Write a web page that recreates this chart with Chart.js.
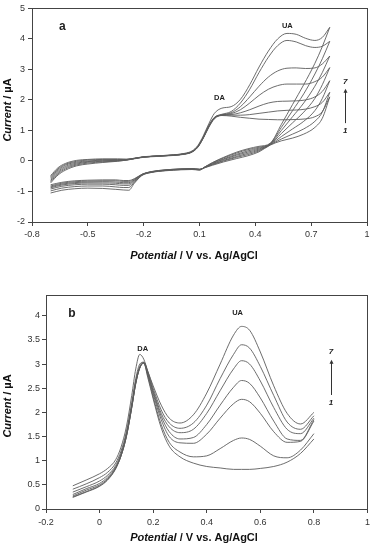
<!DOCTYPE html>
<html>
<head>
<meta charset="utf-8">
<script src="https://cdn.jsdelivr.net/npm/chart.js@4.4.1/dist/chart.umd.min.js"></script>
<style>
  body { margin: 0; background: #fff; }
  canvas { position: absolute; left: 0; }
  #cvChart { top: 0; }
  #dpvChart { top: 270px; }
</style>
</head>
<body>
<canvas id="cvChart" width="374" height="262"></canvas>
<canvas id="dpvChart" width="374" height="280"></canvas>
<script>
// ---- (a) cyclic voltammograms, curves 1..7 ----
const cvFwdV = [-0.7, -0.66, -0.62, -0.56, -0.5, -0.42, -0.34, -0.29, -0.25, -0.2, -0.12, -0.04, 0.02, 0.06, 0.09, 0.12, 0.15, 0.18, 0.22, 0.27, 0.32, 0.37, 0.42, 0.47, 0.52, 0.57, 0.62, 0.67, 0.72, 0.76, 0.8];
const cvFwd1 = [-0.72, -0.46, -0.3, -0.16, -0.1, -0.05, -0.01, 0.03, 0.07, 0.12, 0.15, 0.18, 0.22, 0.29, 0.44, 0.74, 1.1, 1.38, 1.49, 1.47, 1.43, 1.4, 1.37, 1.36, 1.35, 1.35, 1.36, 1.38, 1.45, 1.62, 2.1];
const cvFwd2 = [-0.68, -0.42, -0.26, -0.13, -0.07, -0.03, 0.0, 0.03, 0.08, 0.13, 0.16, 0.19, 0.23, 0.3, 0.45, 0.75, 1.12, 1.4, 1.5, 1.5, 1.5, 1.52, 1.56, 1.6, 1.64, 1.66, 1.67, 1.7, 1.78, 1.92, 2.25];
const cvFwd3 = [-0.64, -0.38, -0.22, -0.1, -0.04, -0.01, 0.01, 0.04, 0.08, 0.13, 0.16, 0.19, 0.23, 0.3, 0.45, 0.76, 1.13, 1.41, 1.5, 1.52, 1.58, 1.68, 1.8, 1.9, 1.95, 1.96, 1.97, 2.0, 2.1, 2.28, 2.63];
const cvFwd4 = [-0.6, -0.34, -0.18, -0.07, -0.02, 0.01, 0.02, 0.04, 0.08, 0.13, 0.16, 0.19, 0.23, 0.3, 0.46, 0.77, 1.14, 1.41, 1.51, 1.55, 1.68, 1.9, 2.15, 2.35, 2.47, 2.52, 2.52, 2.52, 2.6, 2.75, 3.06];
const cvFwd5 = [-0.56, -0.3, -0.14, -0.04, 0.0, 0.03, 0.04, 0.05, 0.08, 0.13, 0.16, 0.19, 0.23, 0.31, 0.46, 0.77, 1.15, 1.42, 1.51, 1.58, 1.78, 2.1, 2.45, 2.75, 2.95, 3.04, 3.05, 3.03, 3.05, 3.18, 3.44];
const cvFwd6 = [-0.52, -0.26, -0.11, -0.01, 0.03, 0.05, 0.05, 0.05, 0.09, 0.13, 0.17, 0.2, 0.24, 0.31, 0.47, 0.78, 1.16, 1.43, 1.53, 1.62, 1.9, 2.35, 2.9, 3.4, 3.78, 3.95, 3.9, 3.78, 3.72, 3.76, 3.92];
const cvFwd7 = [-0.48, -0.22, -0.08, 0.02, 0.05, 0.07, 0.07, 0.06, 0.09, 0.14, 0.17, 0.2, 0.25, 0.33, 0.5, 0.82, 1.22, 1.56, 1.73, 1.78, 2.02, 2.5, 3.08, 3.6, 4.0, 4.18, 4.15, 4.02, 3.95, 4.05, 4.38];

const cvRevV = [-0.7, -0.64, -0.57, -0.5, -0.42, -0.35, -0.31, -0.28, -0.25, -0.21, -0.16, -0.08, 0.0, 0.06, 0.1, 0.13, 0.17, 0.23, 0.3, 0.36, 0.42, 0.48, 0.54, 0.6, 0.66, 0.72, 0.76, 0.8];
const cvRev1 = [-0.78, -0.7, -0.65, -0.63, -0.62, -0.62, -0.64, -0.64, -0.58, -0.44, -0.35, -0.29, -0.26, -0.25, -0.27, -0.22, -0.14, -0.03, 0.08, 0.17, 0.3, 0.52, 0.66, 0.75, 0.88, 1.1, 1.4, 2.1];
const cvRev2 = [-0.82, -0.73, -0.68, -0.66, -0.65, -0.65, -0.67, -0.67, -0.6, -0.44, -0.35, -0.29, -0.26, -0.25, -0.27, -0.21, -0.12, 0.0, 0.12, 0.21, 0.33, 0.53, 0.72, 0.88, 1.05, 1.3, 1.6, 2.25];
const cvRev3 = [-0.85, -0.76, -0.71, -0.69, -0.68, -0.69, -0.71, -0.71, -0.62, -0.45, -0.36, -0.3, -0.27, -0.26, -0.28, -0.21, -0.11, 0.02, 0.15, 0.25, 0.36, 0.54, 0.8, 1.05, 1.3, 1.65, 2.05, 2.63];
const cvRev4 = [-0.88, -0.79, -0.74, -0.72, -0.72, -0.73, -0.75, -0.75, -0.64, -0.45, -0.36, -0.3, -0.27, -0.26, -0.28, -0.2, -0.09, 0.05, 0.19, 0.29, 0.39, 0.55, 0.9, 1.25, 1.6, 2.05, 2.5, 3.06];
const cvRev5 = [-0.92, -0.83, -0.78, -0.76, -0.76, -0.78, -0.8, -0.8, -0.67, -0.46, -0.37, -0.31, -0.28, -0.27, -0.29, -0.2, -0.08, 0.07, 0.22, 0.33, 0.42, 0.56, 1.0, 1.45, 1.9, 2.45, 2.9, 3.44];
const cvRev6 = [-0.98, -0.89, -0.84, -0.82, -0.82, -0.85, -0.87, -0.87, -0.7, -0.47, -0.37, -0.31, -0.28, -0.27, -0.29, -0.19, -0.06, 0.1, 0.26, 0.37, 0.45, 0.57, 1.1, 1.65, 2.2, 2.85, 3.35, 3.92];
const cvRev7 = [-1.05, -0.96, -0.91, -0.89, -0.9, -0.93, -0.95, -0.96, -0.73, -0.48, -0.38, -0.32, -0.29, -0.28, -0.3, -0.19, -0.05, 0.12, 0.29, 0.4, 0.48, 0.58, 1.2, 1.85, 2.5, 3.2, 3.75, 4.38];

const cvXTicks = [-0.8, -0.5, -0.2, 0.1, 0.4, 0.7, 1];
const cvYTicks = [-2, -1, 0, 1, 2, 3, 4, 5];

// ---- (b) DPV, curves 1..7 ----
const dpvV = [-0.1, -0.05, 0, 0.03, 0.06, 0.08, 0.1, 0.12, 0.135, 0.15, 0.165, 0.18, 0.2, 0.23, 0.26, 0.3, 0.35, 0.4, 0.45, 0.5, 0.53, 0.56, 0.6, 0.65, 0.7, 0.75, 0.8];
const dpv1 = [0.24, 0.35, 0.47, 0.6, 0.83, 1.1, 1.5, 2.1, 2.6, 2.92, 3.02, 2.72, 2.28, 1.68, 1.3, 1.08, 0.95, 0.88, 0.85, 0.82, 0.82, 0.82, 0.84, 0.88, 0.97, 1.15, 1.45];
const dpv2 = [0.25, 0.36, 0.48, 0.61, 0.84, 1.1, 1.5, 2.1, 2.6, 2.92, 3.02, 2.75, 2.32, 1.75, 1.38, 1.18, 1.08, 1.1, 1.25, 1.42, 1.47, 1.44, 1.3, 1.1, 1.06, 1.22, 1.56];
const dpv3 = [0.27, 0.39, 0.5, 0.63, 0.85, 1.1, 1.5, 2.1, 2.6, 2.92, 3.03, 2.78, 2.38, 1.85, 1.5, 1.37, 1.36, 1.55, 1.88, 2.18, 2.27, 2.22, 1.98, 1.6, 1.38, 1.4, 1.82];
const dpv4 = [0.3, 0.42, 0.53, 0.66, 0.87, 1.12, 1.52, 2.12, 2.62, 2.93, 3.03, 2.8, 2.42, 1.92, 1.6, 1.45, 1.48, 1.75, 2.15, 2.52, 2.66, 2.6, 2.3, 1.82, 1.45, 1.42, 1.85];
const dpv5 = [0.35, 0.46, 0.58, 0.7, 0.9, 1.15, 1.55, 2.15, 2.65, 2.95, 3.03, 2.82, 2.45, 1.98, 1.7, 1.58, 1.65, 1.98, 2.45, 2.9, 3.07, 3.0, 2.65, 2.1, 1.65, 1.56, 1.88];
const dpv6 = [0.41, 0.52, 0.65, 0.76, 0.95, 1.2, 1.6, 2.2, 2.7, 3.0, 3.04, 2.85, 2.5, 2.05, 1.78, 1.67, 1.78, 2.15, 2.7, 3.2, 3.4, 3.33, 2.95, 2.35, 1.8, 1.65, 1.93];
const dpv7 = [0.48, 0.6, 0.73, 0.84, 1.02, 1.28, 1.7, 2.35, 2.9, 3.2, 3.1, 2.85, 2.55, 2.15, 1.88, 1.78, 1.95, 2.4, 3.0, 3.6, 3.78, 3.7, 3.25, 2.55, 1.98, 1.76, 2.0];

const dpvXTicks = [-0.2, 0, 0.2, 0.4, 0.6, 0.8, 1];
const dpvYTicks = [0, 0.5, 1, 1.5, 2, 2.5, 3, 3.5, 4];

const FONT = "'Liberation Sans', Arial, sans-serif";
Chart.defaults.font.family = FONT;
Chart.defaults.color = '#333';

function curveSets(xs, rows) {
  return rows.map(r => ({
    data: r.map((y, i) => ({ x: xs[i], y: y })),
    borderColor: '#5c5c5c',
    borderWidth: 0.9,
    pointRadius: 0,
    showLine: true,
    fill: false,
    cubicInterpolationMode: 'monotone'
  }));
}

function axis(min, max, tickVals, fitKey, fitSize, pad) {
  return {
    type: 'linear',
    min: min,
    max: max,
    afterBuildTicks: s => { s.ticks = tickVals.map(v => ({ value: v })); },
    afterFit: s => { s[fitKey] = fitSize; },
    grid: { drawOnChartArea: false, drawTicks: true, tickLength: 4, color: '#444' },
    border: { color: '#444', width: 1 },
    ticks: {
      font: { size: 9 }, color: '#333', padding: pad,
      maxRotation: 0, autoSkip: false,
      callback: v => String(+v.toFixed(2))
    }
  };
}

// draws a label made of parts with their own fonts, centred on (cx, cy)
function drawParts(ctx, parts, cx, cy, rot) {
  ctx.save();
  ctx.translate(cx, cy);
  ctx.rotate(rot);
  ctx.textBaseline = 'middle';
  ctx.textAlign = 'left';
  ctx.fillStyle = '#111';
  let total = 0;
  parts.forEach(p => { ctx.font = p[1]; total += ctx.measureText(p[0]).width; });
  let x = -total / 2;
  parts.forEach(p => { ctx.font = p[1]; ctx.fillText(p[0], x, 0); x += ctx.measureText(p[0]).width; });
  ctx.restore();
}

const xTitle = [['Potential', 'italic bold 11px ' + FONT], [' / V vs. Ag/AgCl', 'bold 11px ' + FONT]];
const yTitle = [['Current', 'italic bold 11px ' + FONT], [' / µA', 'bold 11px ' + FONT]];
const noteFont = 'bold 7.5px ' + FONT;
const numFont = 'italic bold 8px ' + FONT;

function figText(cfg) {
  return {
    id: 'figText',
    afterDraw(chart) {
      const ctx = chart.ctx, xs = chart.scales.x, ys = chart.scales.y, a = chart.chartArea;
      ctx.save();
      ctx.strokeStyle = '#444';
      ctx.lineWidth = 1;
      ctx.strokeRect(Math.round(a.left) + 0.5, Math.round(a.top) + 0.5, Math.round(a.width), Math.round(a.height));

      drawParts(ctx, xTitle, cfg.xTitleAt[0], cfg.xTitleAt[1], 0);
      drawParts(ctx, yTitle, cfg.yTitleAt[0], cfg.yTitleAt[1], -Math.PI / 2);

      ctx.fillStyle = '#222';
      ctx.textAlign = 'center';
      ctx.textBaseline = 'middle';
      cfg.notes.forEach(n => {
        ctx.font = n[3];
        ctx.fillText(n[0], xs.getPixelForValue(n[1]), ys.getPixelForValue(n[2]));
      });

      // concentration arrow 1 -> 7
      const ax = Math.round(xs.getPixelForValue(cfg.arrow[0])) + 0.5;
      const y1 = ys.getPixelForValue(cfg.arrow[1]);
      const y2 = ys.getPixelForValue(cfg.arrow[2]);
      ctx.strokeStyle = '#333';
      ctx.lineWidth = 1;
      ctx.beginPath();
      ctx.moveTo(ax, y1);
      ctx.lineTo(ax, y2 + 3);
      ctx.stroke();
      ctx.fillStyle = '#333';
      ctx.beginPath();
      ctx.moveTo(ax, y2);
      ctx.lineTo(ax - 2, y2 + 4);
      ctx.lineTo(ax + 2, y2 + 4);
      ctx.closePath();
      ctx.fill();
      ctx.restore();
    }
  };
}

function baseOptions(pad, xAxis, yAxis) {
  return {
    responsive: false,
    animation: false,
    layout: { padding: pad },
    plugins: { legend: { display: false }, tooltip: { enabled: false } },
    scales: { x: xAxis, y: yAxis }
  };
}

new Chart(document.getElementById('cvChart'), {
  type: 'scatter',
  data: {
    datasets: curveSets(cvFwdV, [cvFwd1, cvFwd2, cvFwd3, cvFwd4, cvFwd5, cvFwd6, cvFwd7])
      .concat(curveSets(cvRevV, [cvRev1, cvRev2, cvRev3, cvRev4, cvRev5, cvRev6, cvRev7]))
  },
  options: baseOptions({ left: 0, top: 5, right: 7, bottom: 0 },
    axis(-0.8, 1, cvXTicks, 'height', 40, 3),
    axis(-2, 5, cvYTicks, 'width', 32, 3)),
  plugins: [figText({
    xTitleAt: [194, 256],
    yTitleAt: [8, 110],
    notes: [
      ['a', -0.637, 4.41, 'bold 12px ' + FONT],
      ['DA', 0.207, 2.05, noteFont],
      ['UA', 0.572, 4.44, noteFont],
      ['7', 0.883, 2.6, numFont],
      ['1', 0.883, 0.98, numFont]
    ],
    arrow: [0.883, 1.24, 2.37]
  })]
});

new Chart(document.getElementById('dpvChart'), {
  type: 'scatter',
  data: {
    datasets: curveSets(dpvV, [dpv1, dpv2, dpv3, dpv4, dpv5, dpv6, dpv7])
  },
  options: baseOptions({ left: 0, top: 25, right: 6, bottom: 0 },
    axis(-0.2, 1, dpvXTicks, 'height', 41, 4),
    axis(0, 4.43, dpvYTicks, 'width', 46, 2)),
  plugins: [figText({
    xTitleAt: [194, 268],
    yTitleAt: [8, 136],
    notes: [
      ['b', -0.103, 4.04, 'bold 12px ' + FONT],
      ['DA', 0.161, 3.31, noteFont],
      ['UA', 0.515, 4.06, noteFont],
      ['7', 0.864, 3.25, numFont],
      ['1', 0.864, 2.19, numFont]
    ],
    arrow: [0.864, 2.36, 3.09]
  })]
});
</script>
</body>
</html>
